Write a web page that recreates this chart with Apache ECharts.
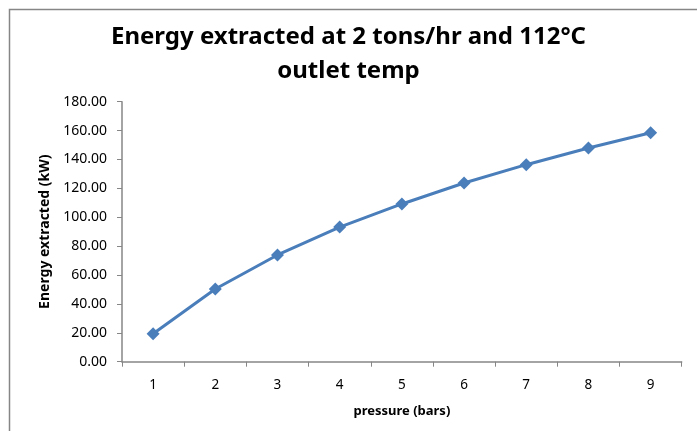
<!DOCTYPE html>
<html>
<head>
<meta charset="utf-8">
<script src="https://cdn.jsdelivr.net/npm/echarts@6/dist/echarts.min.js"></script>
<style>
  html, body { margin: 0; padding: 0; background: #fff; }
  #chart { width: 697px; height: 431px; }
</style>
</head>
<body>
<div id="chart"></div>
<script>
// Pressure steps (bars) and the energy extracted at each (kW)
const pressures = ['1', '2', '3', '4', '5', '6', '7', '8', '9'];
const energyKW = [19.4, 50.3, 73.9, 93.2, 109.2, 123.7, 136.4, 147.9, 158.5];
const yTicks = { min: 0, max: 180, step: 20 };

const titleText = 'Energy extracted at 2 tons/hr and 112°C\noutlet temp';
const axisGray = '#868686';
const lineBlue = '#4a7ebb';
const fontFam = '"Noto Sans", "Open Sans", sans-serif';

const chart = echarts.init(document.getElementById('chart'), null, { renderer: 'canvas' });

chart.setOption({
  animation: false,
  backgroundColor: '#ffffff',
  title: {
    text: titleText,
    left: 'center',
    top: 15,
    textStyle: {
      fontFamily: fontFam,
      fontWeight: 'bold',
      fontSize: 24,
      lineHeight: 34,
      color: '#000'
    }
  },
  graphic: [
    {
      type: 'polyline',
      silent: true,
      shape: { points: [[9.5, 431], [9.5, 9.5], [697, 9.5]] },
      style: { stroke: axisGray, lineWidth: 1.5, fill: null }
    }
  ],
  grid: { left: 122, top: 101.7, right: 15.3, bottom: 69.3 },
  xAxis: {
    type: 'category',
    data: pressures,
    boundaryGap: true,
    name: 'pressure (bars)',
    nameLocation: 'middle',
    nameGap: 43,
    nameTextStyle: { fontFamily: fontFam, fontWeight: 'bold', fontSize: 13, color: '#000' },
    axisLine: { lineStyle: { color: axisGray, width: 1.5 } },
    axisTick: { show: true, length: 5, inside: false, alignWithLabel: false, lineStyle: { color: axisGray } },
    axisLabel: { margin: 16, fontFamily: fontFam, fontSize: 13.5, color: '#000' },
    splitLine: { show: false }
  },
  yAxis: {
    type: 'value',
    min: yTicks.min,
    max: yTicks.max,
    interval: yTicks.step,
    name: 'Energy extracted (kW)',
    nameLocation: 'middle',
    nameGap: 67,
    nameTextStyle: { fontFamily: fontFam, fontWeight: 'bold', fontSize: 14, color: '#000' },
    axisLine: { show: true, lineStyle: { color: axisGray, width: 1.5 } },
    axisTick: { show: true, length: 5, lineStyle: { color: axisGray } },
    axisLabel: {
      margin: 15,
      fontFamily: fontFam,
      fontSize: 14,
      color: '#000',
      formatter: v => v.toFixed(2)
    },
    splitLine: { show: false }
  },
  series: [
    {
      type: 'line',
      data: energyKW,
      symbol: 'diamond',
      symbolSize: 13,
      lineStyle: { color: lineBlue, width: 3 },
      itemStyle: { color: lineBlue },
      z: 3
    }
  ]
});
</script>
</body>
</html>
